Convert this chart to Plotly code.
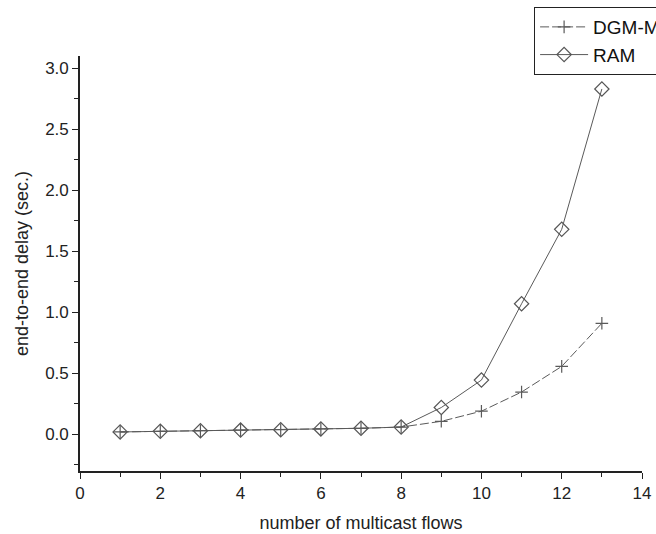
import plotly.graph_objects as go

flows = [1, 2, 3, 4, 5, 6, 7, 8, 9, 10, 11, 12, 13]
dgm_delay = [0.02, 0.025, 0.03, 0.035, 0.038, 0.045, 0.05, 0.06, 0.107, 0.19, 0.347, 0.557, 0.91]
ram_delay = [0.02, 0.025, 0.03, 0.035, 0.038, 0.045, 0.05, 0.06, 0.22, 0.445, 1.07, 1.68, 2.83]
series_names = ["DGM-M", "RAM"]

fig = go.Figure()
fig.add_trace(go.Scatter(
    x=flows, y=dgm_delay, name=series_names[0], mode="lines+markers",
    line=dict(color="#5a5a5a", width=1, dash="9px,3px"),
    marker=dict(symbol="cross-thin-open", size=9, line=dict(color="#444444", width=1.2)),
))
fig.add_trace(go.Scatter(
    x=flows, y=ram_delay, name=series_names[1], mode="lines+markers",
    line=dict(color="#5a5a5a", width=1),
    marker=dict(symbol="diamond-open", size=11, color="#555555", line=dict(color="#555555", width=1.2)),
))

fam = "Liberation Sans, Arial, sans-serif"
fig.update_layout(
    width=656, height=534,
    margin=dict(l=80, r=14, t=56, b=63, autoexpand=False),
    plot_bgcolor="white", paper_bgcolor="white",
    font=dict(family=fam, size=17, color="#222222"),
    showlegend=True,
    legend=dict(
        x=0.808, y=1.118, xanchor="left", yanchor="top",
        bordercolor="#222222", borderwidth=1, bgcolor="white",
        font=dict(family=fam, size=19, color="#111111"),
        tracegroupgap=0, itemwidth=48,
    ),
    xaxis=dict(
        range=[0, 14], tickmode="array", tickvals=[0, 2, 4, 6, 8, 10, 12, 14],
        ticks="outside", ticklen=6, tickwidth=1.3, tickcolor="#222222",
        showline=True, linecolor="#222222", linewidth=1.6, showgrid=False, zeroline=False,
        minor=dict(dtick=1, ticks="outside", ticklen=4, tickwidth=1.2, tickcolor="#222222", showgrid=False),
        title=dict(text="number of multicast flows", font=dict(family=fam, size=18, color="#222222"), standoff=14),
        tickfont=dict(family=fam, size=17, color="#222222"),
    ),
    yaxis=dict(
        range=[-0.3, 3.1], tickmode="array", tickvals=[0, 0.5, 1.0, 1.5, 2.0, 2.5, 3.0],
        tickformat=".1f",
        ticks="outside", ticklen=6, tickwidth=1.3, tickcolor="#222222",
        showline=True, linecolor="#222222", linewidth=1.6, showgrid=False, zeroline=False,
        minor=dict(tickvals=[-0.25, 0.25, 0.75, 1.25, 1.75, 2.25, 2.75], ticks="outside", ticklen=4, tickwidth=1.2, tickcolor="#222222", showgrid=False),
        title=dict(text="end-to-end delay (sec.)", font=dict(family=fam, size=18, color="#222222"), standoff=12),
        tickfont=dict(family=fam, size=17, color="#222222"),
    ),
)

fig.write_html("out.html")
